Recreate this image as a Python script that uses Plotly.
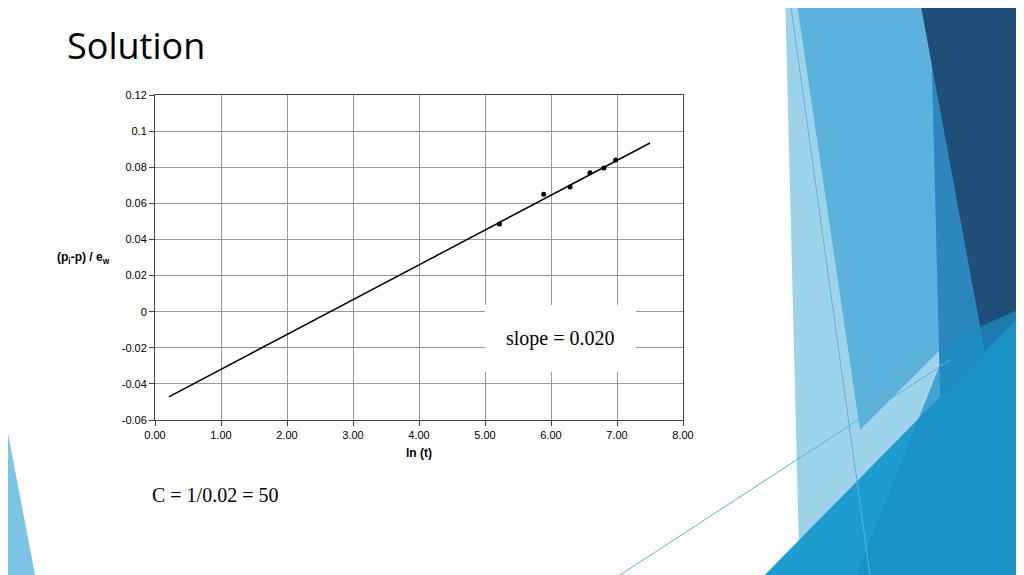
import plotly.graph_objects as go

pts_x = [5.22, 5.89, 6.29, 6.59, 6.80, 6.98]
pts_y = [0.0486, 0.065, 0.069, 0.077, 0.0796, 0.084]
line_x = [0.21, 7.5]
line_y = [-0.0472, 0.0934]
xticks = [0, 1, 2, 3, 4, 5, 6, 7, 8]
xlabels = ["0.00", "1.00", "2.00", "3.00", "4.00", "5.00", "6.00", "7.00", "8.00"]
yticks = [0.12, 0.1, 0.08, 0.06, 0.04, 0.02, 0, -0.02, -0.04, -0.06]
ylabels = ["0.12", "0.1", "0.08", "0.06", "0.04", "0.02", "0", "-0.02", "-0.04", "-0.06"]

OFF = 8
L, R, T, B = 155, 683, 95, 420
def px(X): return (X - L) / (R - L)
def py(Y): return (B - Y) / (B - T)
def path(pts):
    return "M " + " L ".join(f"{px(a):.4f},{py(b):.4f}" for a, b in pts) + " Z"

fig = go.Figure()
fig.add_trace(go.Scatter(x=line_x, y=line_y, mode="lines", line=dict(color="black", width=1.5), showlegend=False))
fig.add_trace(go.Scatter(x=pts_x, y=pts_y, mode="markers", marker=dict(color="black", size=5), showlegend=False))

shapes = []
def poly(pts, color, op=1.0):
    shapes.append(dict(type="path", xref="paper", yref="paper", path=path(pts),
                       fillcolor=color, line=dict(width=0), opacity=op, layer="above"))
poly([(785, -10), (1040, -10), (1040, 590), (800, 590)], "#9FD3EA")
poly([(795, -10), (930, -10), (960, 330), (860, 430)], "#5BB3DD")
poly([(930, -10), (1040, -10), (1040, 590), (945, 590)], "#2E86BE")
poly([(918, -10), (1040, -10), (1040, 300), (990, 380)], "#1F4E79")
poly([(750, 590), (1040, 295), (1040, 590)], "#1E9CD0")
poly([(850, 590), (950, 340), (1040, 300), (1040, 590)], "#1A8FC2", 0.7)
poly([(-10, 340), (38, 590), (-10, 590)], "#7FC4E5")
shapes.append(dict(type="line", xref="paper", yref="paper", x0=px(790), y0=py(0), x1=px(870), y1=py(575),
                   line=dict(color="#5BB3DD", width=1), layer="above"))
shapes.append(dict(type="line", xref="paper", yref="paper", x0=px(620), y0=py(575), x1=px(950), y1=py(360),
                   line=dict(color="#5BB3DD", width=1), layer="above"))
shapes.append(dict(type="rect", xref="paper", yref="paper", x0=px(485), x1=px(636), y0=py(372), y1=py(305),
                   fillcolor="white", line=dict(width=0), layer="above"))

fig.update_layout(
    width=1024, height=575, margin=dict(l=L - OFF, r=1024 - R + OFF, t=T - OFF, b=575 - B + OFF),
    paper_bgcolor="white", plot_bgcolor="white", shapes=shapes,
    xaxis=dict(range=[0, 8], tickvals=xticks, ticktext=xlabels, showgrid=True, gridcolor="#999",
               zeroline=False, showline=True, linecolor="#444", mirror=True, ticks="outside",
               tickfont=dict(family="Arial", size=11, color="black"),
               title=dict(text="<b>ln (t)</b>", font=dict(family="Arial", size=12, color="black"), standoff=8)),
    yaxis=dict(range=[-0.06, 0.12], tickvals=yticks, ticktext=ylabels, showgrid=True, gridcolor="#999",
               zeroline=False, showline=True, linecolor="#444", mirror=True, ticks="outside",
               tickfont=dict(family="Arial", size=11, color="black")),
    annotations=[
        dict(text="Solution", x=px(65), y=py(45), xref="paper", yref="paper", xanchor="left", yanchor="middle",
             showarrow=False, font=dict(family="Open Sans", size=36, color="black")),
        dict(text="<b>(p<sub>i</sub>-p) / e<sub>w</sub></b>", x=px(55), y=py(258), xref="paper", yref="paper",
             xanchor="left", yanchor="middle", showarrow=False, font=dict(family="Arial", size=12, color="black")),
        dict(text="slope = 0.020", x=px(560), y=py(338), xref="paper", yref="paper", xanchor="center", yanchor="middle",
             showarrow=False, font=dict(family="Liberation Serif", size=20, color="black")),
        dict(text="C = 1/0.02 = 50", x=px(150), y=py(495), xref="paper", yref="paper", xanchor="left", yanchor="middle",
             showarrow=False, font=dict(family="Liberation Serif", size=20, color="black")),
    ],
)
fig.write_html("out.html")
